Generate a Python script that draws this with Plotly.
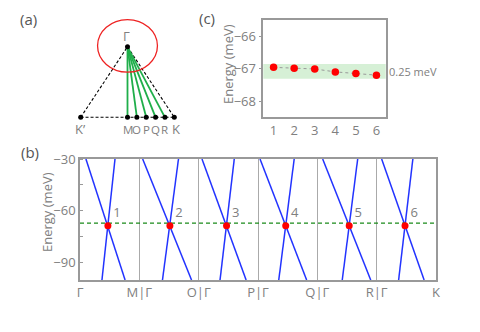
import plotly.graph_objects as go

GRAY = "#808080"
FONT = "Open Sans"

# ---- panel (b): bands along the six Gamma -> X paths
seg_ticktext = ["Γ", "M|Γ", "O|Γ", "P|Γ", "Q|Γ", "R|Γ", "K"]
# fraction along each segment where the falling band hits E=-30 and E=-100
fall_top = [0.10, 0.056, 0.056, 0.034, 0.09, 0.084]
fall_bot = [0.76, 0.88, 0.80, 0.82, 0.90, 0.80]
# rising band: at E=-100 and at E=-30
rise_bot = [0.37, 0.39, 0.36, 0.35, 0.42, 0.37]
rise_top = [0.59, 0.66, 0.60, 0.61, 0.68, 0.61]
band_e = [-30, -100]
cross_frac = [0.47, 0.515, 0.47, 0.467, 0.537, 0.478]
cross_e = [-68.6, -68.6, -68.6, -68.6, -68.6, -68.6]
cross_labels = ["1", "2", "3", "4", "5", "6"]
fermi_e = -67.1

# ---- panel (c): crossing energies
c_index = [1, 2, 3, 4, 5, 6]
c_energy = [-66.96, -66.99, -67.01, -67.1, -67.15, -67.2]
band_lo, band_hi = -67.31, -66.86

# ---- panel (a): triangle in the Brillouin zone
gamma_xy = (0.0, 1.5)
kprime_xy = (-1.0, 0.0)
k_xy = (1.0, 0.0)
path_frac = [0.0, 0.2, 0.4, 0.6, 0.8]
path_names = ["M", "O", "P", "Q", "R"]
circle_c = (0.0, 1.52)
circle_r = (0.64, 0.56)

fig = go.Figure()

# (b) bands
for i in range(6):
    fig.add_trace(go.Scatter(x=[i + fall_top[i], i + fall_bot[i]], y=band_e, mode="lines",
                             line=dict(color="#2233ff", width=1.5), showlegend=False,
                             xaxis="x", yaxis="y"))
    fig.add_trace(go.Scatter(x=[i + rise_top[i], i + rise_bot[i]], y=band_e, mode="lines",
                             line=dict(color="#2233ff", width=1.5), showlegend=False,
                             xaxis="x", yaxis="y"))
fig.add_trace(go.Scatter(x=[0, 6], y=[fermi_e, fermi_e], mode="lines",
                         line=dict(color="#1a8a1a", width=1.2, dash="4px,3px"), showlegend=False,
                         xaxis="x", yaxis="y"))
cross_x = [i + f for i, f in enumerate(cross_frac)]
fig.add_trace(go.Scatter(x=cross_x, y=cross_e, mode="markers+text", text=cross_labels,
                         textposition="top right", textfont=dict(family=FONT, size=13, color=GRAY),
                         marker=dict(color="red", size=7), showlegend=False,
                         xaxis="x", yaxis="y"))

# (c) crossing energies
fig.add_shape(type="rect", xref="x2 domain", yref="y2", x0=0, x1=1, y0=band_lo, y1=band_hi,
              fillcolor="#d6f0d6", line_width=0, layer="below")
fig.add_trace(go.Scatter(x=c_index, y=c_energy, mode="lines+markers",
                         line=dict(color="#999999", width=1, dash="dot"),
                         marker=dict(color="red", size=7.5), showlegend=False,
                         xaxis="x2", yaxis="y2"))

# (a) triangle
gx, gy = gamma_xy
fig.add_trace(go.Scatter(x=[kprime_xy[0], gx, k_xy[0], kprime_xy[0]],
                         y=[kprime_xy[1], gy, k_xy[1], kprime_xy[1]], mode="lines",
                         line=dict(color="black", width=1.1, dash="3px,2px"), showlegend=False,
                         xaxis="x3", yaxis="y3"))
path_x = [k_xy[0] * f for f in path_frac]
for px in path_x:
    fig.add_trace(go.Scatter(x=[gx, px], y=[gy, 0], mode="lines",
                             line=dict(color="#1fae4a", width=1.8), showlegend=False,
                             xaxis="x3", yaxis="y3"))
fig.add_trace(go.Scatter(x=[gx, kprime_xy[0], k_xy[0]] + path_x, y=[gy, 0, 0] + [0] * len(path_x),
                         mode="markers", marker=dict(color="black", size=5), showlegend=False,
                         xaxis="x3", yaxis="y3"))
fig.add_shape(type="circle", xref="x3", yref="y3",
              x0=circle_c[0] - circle_r[0], x1=circle_c[0] + circle_r[0],
              y0=circle_c[1] - circle_r[1], y1=circle_c[1] + circle_r[1],
              line=dict(color="#ee2222", width=1.3))

lab_font = dict(family=FONT, size=13, color=GRAY)
small_font = dict(family=FONT, size=11.5, color=GRAY)
annotations = [
    dict(x=gx, y=gy, xref="x3", yref="y3", text="Γ", showarrow=False, yshift=11, xshift=-1, font=lab_font),
    dict(x=kprime_xy[0], y=0, xref="x3", yref="y3", text="K’", showarrow=False, yshift=-12, font=lab_font),
    dict(x=k_xy[0], y=0, xref="x3", yref="y3", text="K", showarrow=False, yshift=-12, xshift=2, font=lab_font),
]
for px, name in zip(path_x, path_names):
    annotations.append(dict(x=px, y=0, xref="x3", yref="y3", text=name, showarrow=False,
                            yshift=-12, font=small_font))
annotations.append(dict(xref="x2 domain", yref="y2", x=1, y=(band_lo + band_hi) / 2, text="0.25 meV",
                        xanchor="left", xshift=1, showarrow=False, font=dict(family=FONT, size=11, color=GRAY)))
for txt, px, py in [("(a)", 28, 19), ("(b)", 30, 152), ("(c)", 207, 18)]:
    annotations.append(dict(xref="paper", yref="paper", x=px / 480, y=1 - py / 332, text=txt,
                            xanchor="center", yanchor="middle", showarrow=False,
                            font=dict(family=FONT, size=15, color="#555555")))
# y-axis titles placed by hand
for px, py in [(47, 212), (228, 64)]:
    annotations.append(dict(xref="paper", yref="paper", x=px / 480, y=1 - py / 332, text="Energy (meV)",
                            xanchor="center", yanchor="middle", textangle=-90, showarrow=False,
                            font=dict(family=FONT, size=13, color=GRAY)))

axis_line = dict(showline=True, linecolor="#999999", linewidth=1.5, mirror=True, zeroline=False,
                 automargin=False)

fig.update_layout(
    width=480, height=332, margin=dict(l=0, r=0, t=0, b=0, autoexpand=False),
    paper_bgcolor="white", plot_bgcolor="white",
    font=dict(family=FONT, size=13, color=GRAY),
    annotations=annotations,
    xaxis=dict(domain=[80 / 480, 436 / 480], range=[0, 6], tickvals=[0, 1, 2, 3, 4, 5, 6],
               ticktext=seg_ticktext, showgrid=True, gridcolor="#aaaaaa", gridwidth=1,
               ticks="", tickfont=dict(size=13, color=GRAY), anchor="y", **axis_line),
    yaxis=dict(domain=[1 - 280 / 332, 1 - 159 / 332], range=[-100, -30], tickvals=[-30, -60, -90],
               showgrid=False, ticks="", minor=dict(ticks="inside", dtick=15, ticklen=3, tickcolor="#999999"),
               tickfont=dict(size=13, color=GRAY), anchor="x", **axis_line),
    xaxis2=dict(domain=[263.3 / 480, 385.7 / 480], range=[0.5, 6.45], tickvals=c_index,
                showgrid=False, ticks="", tickfont=dict(size=13, color=GRAY), anchor="y2", **axis_line),
    yaxis2=dict(domain=[1 - 117.3 / 332, 1 - 20 / 332], range=[-68.5, -65.5], tickvals=[-66, -67, -68],
                showgrid=False, ticks="outside", ticklen=3, tickcolor="#999999",
                tickfont=dict(size=13, color=GRAY), anchor="x2", **axis_line),
    xaxis3=dict(domain=[57.3 / 480, 197.7 / 480], range=[-1.5, 1.5], visible=False, anchor="y3"),
    yaxis3=dict(domain=[1 - 129.05 / 332, 1 - 11.55 / 332], range=[-0.25, 2.25], visible=False, anchor="x3"),
)

# the page's default body margin would push the figure off its intended pixel positions
fig.write_html("out.html", config={"displayModeBar": False},
               post_script="document.body.style.margin='0';")
